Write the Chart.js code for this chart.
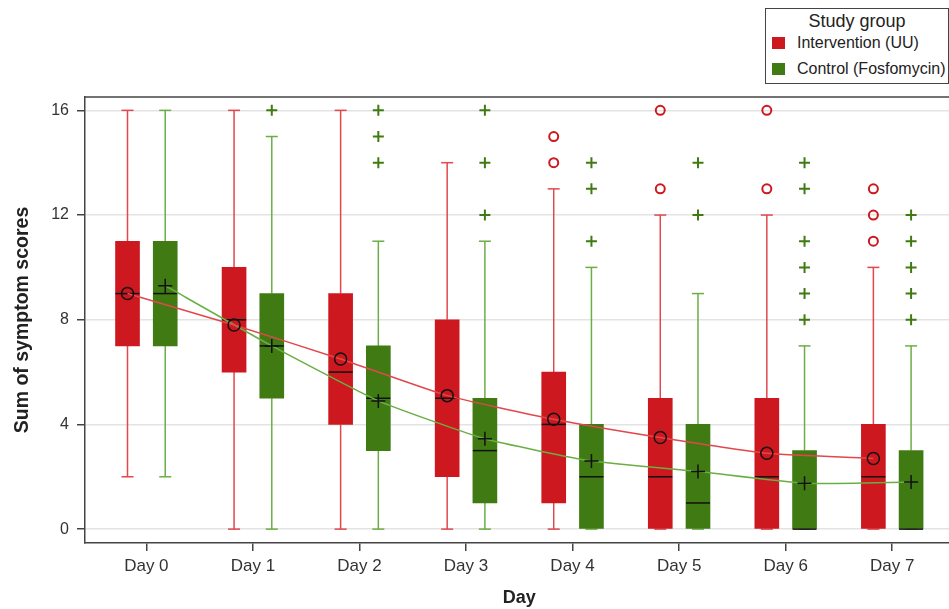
<!DOCTYPE html>
<html>
<head>
<meta charset="utf-8">
<script src="https://cdn.jsdelivr.net/npm/chart.js@4.4.1/dist/chart.umd.min.js"></script>
<style>
  html, body { margin: 0; padding: 0; background: #fff; overflow: hidden; }
  #wrap { position: relative; width: 962px; height: 609px; }
  #legend {
    position: absolute; left: 765px; top: 8px; width: 184px; height: 76px;
    box-sizing: border-box; border: 1.5px solid #444; background: #fff;
    font-family: "Liberation Sans", Arial, sans-serif; color: #222;
  }
  #legend .title { position: absolute; left: 0; right: 0; top: 2px; height: 20px; line-height: 20px;
    text-align: center; font-size: 18px; }
  #legend .item { position: absolute; left: 6px; height: 20px; line-height: 20px; font-size: 16px;
    display: flex; align-items: center; white-space: nowrap; }
  #legend .sw { width: 13px; height: 12px; margin-right: 12px; }
</style>
</head>
<body>
<div id="wrap">
  <canvas id="chart"></canvas>
  <div id="legend">
    <div class="title">Study group</div>
    <div class="item" style="top:24px"><span class="sw" style="background:#CC181E"></span>Intervention (UU)</div>
    <div class="item" style="top:50px"><span class="sw" style="background:#3F7A12"></span>Control (Fosfomycin)</div>
  </div>
</div>
<script>
// Days of follow-up (x axis)
const DAYS = ['Day 0', 'Day 1', 'Day 2', 'Day 3', 'Day 4', 'Day 5', 'Day 6', 'Day 7'];
const Y_TICKS = [0, 4, 8, 12, 16];

// Intervention (UU): box-plot summary per day
const UU_MIN  = [2, 0, 0, 0, 0, 0, 0, 0];
const UU_Q1   = [7, 6, 4, 2, 1, 0, 0, 0];
const UU_MED  = [9, 8, 6, 5, 4, 2, 2, 2];
const UU_Q3   = [11, 10, 9, 8, 6, 5, 5, 4];
const UU_MAX  = [16, 16, 16, 14, 13, 12, 12, 10];
const UU_MEAN = [9.0, 7.8, 6.5, 5.1, 4.2, 3.5, 2.9, 2.7];
const UU_OUT  = [[], [], [], [], [15, 14], [16, 13], [16, 13], [13, 12, 11]];

// Control (Fosfomycin): box-plot summary per day
const FOS_MIN  = [2, 0, 0, 0, 0, 0, 0, 0];
const FOS_Q1   = [7, 5, 3, 1, 0, 0, 0, 0];
const FOS_MED  = [9, 7, 5, 3, 2, 1, 0, 0];
const FOS_Q3   = [11, 9, 7, 5, 4, 4, 3, 3];
const FOS_MAX  = [16, 15, 11, 11, 10, 9, 7, 7];
const FOS_MEAN = [9.3, 7.0, 4.9, 3.45, 2.6, 2.2, 1.75, 1.8];
const FOS_OUT  = [[], [16], [16, 15, 14], [16, 14, 12], [14, 13, 11], [14, 12], [14, 13, 11, 10, 9, 8], [12, 11, 10, 9, 8]];

// Styling
const RED = '#CC181E', RED_LINE = '#E2474B';
const GREEN = '#3F7A12', GREEN_LINE = '#6AAE45';
const SHIFT = 0.177;        // horizontal offset of each group from the day position
const BOX_W = 24, CAP_W = 12;
const FONT = '"Liberation Sans", Arial, sans-serif';

const groups = [
  { shift: -SHIFT, min: UU_MIN, q1: UU_Q1, med: UU_MED, q3: UU_Q3, max: UU_MAX, mean: UU_MEAN, out: UU_OUT,
    fill: RED, line: RED_LINE, meanStyle: 'circle', outStyle: 'circle' },
  { shift: SHIFT, min: FOS_MIN, q1: FOS_Q1, med: FOS_MED, q3: FOS_Q3, max: FOS_MAX, mean: FOS_MEAN, out: FOS_OUT,
    fill: GREEN, line: GREEN_LINE, meanStyle: 'cross', outStyle: 'cross' }
];

const datasets = [];
groups.forEach((g, gi) => {
  datasets.push({
    type: 'bar', label: 'box' + gi, order: 10,
    data: DAYS.map((_, i) => ({ x: i + g.shift, y: [g.q1[i], g.q3[i]] })),
    backgroundColor: g.fill, borderWidth: 0, barThickness: BOX_W, grouped: false,
    boxGroup: gi
  });
  datasets.push({
    type: 'line', label: 'mean' + gi, order: 1,
    data: DAYS.map((_, i) => ({ x: i + g.shift, y: g.mean[i] })),
    borderColor: g.line, borderWidth: 1.5, tension: 0.15, fill: false,
    pointStyle: g.meanStyle, pointRadius: g.meanStyle === 'circle' ? 6 : 7,
    pointBorderColor: '#111', pointBackgroundColor: 'rgba(0,0,0,0)', pointBorderWidth: 1.5
  });
  const outPts = [];
  g.out.forEach((vals, i) => vals.forEach(v => outPts.push({ x: i + g.shift, y: v })));
  datasets.push({
    type: 'scatter', label: 'out' + gi, order: 2,
    data: outPts, showLine: false,
    pointStyle: g.outStyle, pointRadius: g.outStyle === 'circle' ? 4.5 : 5.5,
    pointBorderColor: g.outStyle === 'circle' ? RED : GREEN,
    pointBackgroundColor: 'rgba(0,0,0,0)', pointBorderWidth: 2
  });
});

// Whiskers, caps and medians drawn through the chart's own scales
const boxPlotParts = {
  id: 'boxPlotParts',
  beforeDatasetsDraw(chart) {
    const { ctx, scales: { x, y } } = chart;
    ctx.save();
    ctx.lineWidth = 1.5;
    groups.forEach(g => {
      ctx.strokeStyle = g.line;
      DAYS.forEach((_, i) => {
        const px = x.getPixelForValue(i + g.shift);
        [[g.min[i], g.q1[i]], [g.q3[i], g.max[i]]].forEach(([a, b]) => {
          ctx.beginPath();
          ctx.moveTo(px, y.getPixelForValue(a));
          ctx.lineTo(px, y.getPixelForValue(b));
          ctx.stroke();
        });
        [g.min[i], g.max[i]].forEach(v => {
          const py = y.getPixelForValue(v);
          ctx.beginPath();
          ctx.moveTo(px - CAP_W / 2, py);
          ctx.lineTo(px + CAP_W / 2, py);
          ctx.stroke();
        });
      });
    });
    ctx.restore();
  },
  afterDatasetDraw(chart, args) {
    const ds = chart.data.datasets[args.index];
    if (ds.boxGroup === undefined) return;
    const g = groups[ds.boxGroup];
    const { ctx, scales: { x, y } } = chart;
    ctx.save();
    ctx.strokeStyle = '#111';
    ctx.lineWidth = 1.5;
    DAYS.forEach((_, i) => {
      const px = x.getPixelForValue(i + g.shift);
      const py = y.getPixelForValue(g.med[i]);
      ctx.beginPath();
      ctx.moveTo(px - BOX_W / 2, py);
      ctx.lineTo(px + BOX_W / 2, py);
      ctx.stroke();
    });
    ctx.restore();
  },
  afterDraw(chart) {
    // top edge of the plot frame
    const { ctx, chartArea } = chart;
    ctx.save();
    ctx.strokeStyle = '#444';
    ctx.lineWidth = 1.5;
    ctx.beginPath();
    ctx.moveTo(chartArea.left, chartArea.top);
    ctx.lineTo(chartArea.right, chartArea.top);
    ctx.stroke();
    ctx.restore();
  }
};

new Chart(document.getElementById('chart'), {
  data: { datasets },
  plugins: [boxPlotParts],
  options: {
    responsive: true, maintainAspectRatio: false, animation: false,
    layout: { padding: { top: 97, left: 0, right: 0, bottom: 0 } },
    plugins: { legend: { display: false }, tooltip: { enabled: false } },
    scales: {
      x: {
        type: 'linear', min: -0.576, max: 7.575, offset: false,
        afterFit(s) { s.height = 66; },
        afterBuildTicks(s) { s.ticks = DAYS.map((_, i) => ({ value: i })); },
        ticks: { callback: v => DAYS[v], color: '#333', font: { family: FONT, size: 17 }, padding: 5, maxRotation: 0 },
        grid: { offset: false, drawOnChartArea: false, drawTicks: true, tickLength: 8, color: '#444', lineWidth: 1.5 },
        border: { color: '#444', width: 1.5 },
        title: { display: true, text: 'Day', color: '#222', font: { family: FONT, size: 18, weight: 'bold' }, padding: { top: 0, bottom: 0 } }
      },
      y: {
        type: 'linear', min: -0.53, max: 16.51,
        afterFit(s) { s.width = 85; },
        afterBuildTicks(s) { s.ticks = Y_TICKS.map(v => ({ value: v })); },
        ticks: { color: '#333', font: { family: FONT, size: 16 }, padding: 8 },
        grid: { color: '#E3E3E3', lineWidth: 1.5, tickColor: '#444', tickLength: 8, drawTicks: true },
        border: { color: '#444', width: 1.5 },
        title: { display: true, text: 'Sum of symptom scores', color: '#222', font: { family: FONT, size: 19.5, weight: 'bold' }, padding: { top: 11, bottom: 0 } }
      }
    }
  }
});
</script>
</body>
</html>
